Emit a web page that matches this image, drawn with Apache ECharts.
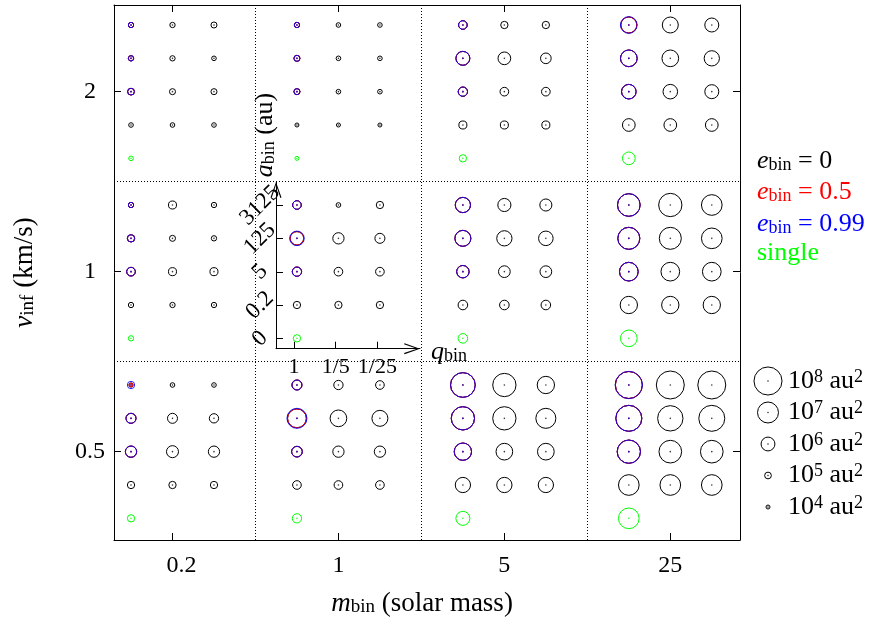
<!DOCTYPE html>
<html><head><meta charset="utf-8">
<script src="https://cdn.jsdelivr.net/npm/echarts@6/dist/echarts.min.js"></script>
<style>html,body{margin:0;padding:0;background:#fff}#c{width:879px;height:625px}</style>
</head><body><div id="c"></div>
<script>
// ---- categories / tick labels ----
const mBins = ['0.2', '1', '5', '25'];          // binary mass (solar mass)
const vInf = ['0.5', '1', '2'];                 // km/s, bottom to top
const qBins = ['1', '1/5', '1/25'];
const aBins = ['0', '0.2', '5', '125', '3125']; // '0' row = single star
const legendExp = [8, 7, 6, 5, 4];              // size legend, 10^n au^2

// ---- log10 cross-section (au^2), e_bin = 0 : [m][a = 0.2,5,125,3125][q = 1,1/5,1/25]
const sigE0_v2 = [
  [[4.7, 4.7, 4.7], [5.0, 4.9, 4.9], [4.8, 4.8, 4.7], [4.8, 4.8, 4.9]],
  [[4.6, 4.6, 4.6], [4.9, 4.7, 4.7], [4.9, 4.7, 4.7], [4.8, 4.7, 4.7]],
  [[5.18, 5.18, 5.18], [5.36, 5.27, 5.27], [6.0, 5.84, 5.55], [5.27, 5.08, 5.08]],
  [[5.84, 5.84, 5.84], [6.1, 6.1, 6.02], [6.4, 6.4, 6.2], [6.3, 6.3, 6.02]]
];
const sigE0_v1 = [
  [[4.8, 4.8, 4.8], [5.27, 5.18, 5.18], [5.08, 4.9, 4.8], [4.8, 5.18, 4.8]],
  [[5.08, 5.08, 5.08], [5.36, 5.27, 5.27], [5.95, 5.64, 5.46], [5.27, 4.71, 5.08]],
  [[5.4, 5.4, 5.4], [5.8, 5.7, 5.7], [6.3, 6.2, 6.1], [6.2, 5.9, 5.75]],
  [[6.49, 6.49, 6.49], [6.68, 6.68, 6.68], [7.15, 7.15, 6.96], [7.24, 7.33, 6.96]]
];
const sigE0_v05 = [
  [[5.08, 5.08, 5.08], [5.64, 5.74, 5.64], [5.46, 5.46, 5.36], [4.6, 4.7, 4.7]],
  [[5.27, 5.27, 5.27], [5.55, 5.64, 5.64], [6.7, 6.4, 6.3], [5.46, 5.36, 5.27]],
  [[6.2, 6.2, 6.2], [6.49, 6.4, 6.4], [7.33, 7.33, 6.87], [7.53, 7.33, 6.49]],
  [[6.96, 6.96, 6.96], [7.33, 7.24, 7.24], [7.71, 7.62, 7.71], [7.85, 7.99, 7.99]]
];
// e_bin = 0.5 and 0.99, q = 1 only : [m][a = 5,125,3125]
const sigE05_v2 = [[5.0, 4.8, 4.8], [4.9, 4.9, 4.8], [5.36, 6.0, 5.27], [6.1, 6.4, 6.3]];
const sigE05_v1 = [[5.27, 5.08, 4.8], [5.36, 5.95, 5.27], [5.8, 6.3, 6.2], [6.68, 7.15, 7.24]];
const sigE05_v05 = [[5.64, 5.46, 4.6], [5.55, 6.7, 5.46], [6.49, 7.33, 7.53], [7.33, 7.71, 7.85]];
const sigE099_v2 = [[5.0, 4.8, 4.8], [4.9, 4.9, 4.8], [5.36, 6.02, 5.27], [6.1, 6.4, 6.4]];
const sigE099_v1 = [[5.27, 5.08, 4.8], [5.36, 6.1, 5.27], [5.8, 6.3, 6.2], [6.68, 7.15, 7.24]];
const sigE099_v05 = [[5.64, 5.46, 5.08], [5.55, 6.87, 5.46], [6.49, 7.33, 7.53], [7.33, 7.71, 7.9]];
// single star : [v = 0.5,1,2][m]
const sigSingle = [[5.08, 5.36, 6.02, 6.96], [4.8, 5.08, 5.4, 6.4], [4.7, 4.6, 5.08, 5.84]];

// ---- layout helpers ----
const D = 5.4; // y spacing between velocity blocks (in a-row units)
const FONT = 'Liberation Serif';
const FS = 24;
function sz(L) { return Math.max(4, 7.1 * (L - 4.05)); }

const e0 = [sigE0_v05, sigE0_v1, sigE0_v2];
const e05 = [sigE05_v05, sigE05_v1, sigE05_v2];
const e099 = [sigE099_v05, sigE099_v1, sigE099_v2];
const blackPts = [], redPts = [], bluePts = [], greenPts = [];
for (let v = 0; v < vInf.length; v++) for (let m = 0; m < mBins.length; m++) {
  for (let ar = 0; ar < 4; ar++) for (let q = 0; q < qBins.length; q++)
    blackPts.push([4 * m + q - 1, v * D + ar - 1, e0[v][m][ar][q]]);
  for (let ar = 0; ar < 3; ar++) {
    redPts.push([4 * m - 1, v * D + ar, e05[v][m][ar]]);
    bluePts.push([4 * m - 1, v * D + ar, e099[v][m][ar]]);
  }
  greenPts.push([4 * m - 1, v * D - 2, sigSingle[v][m]]);
}

function ring(data, color, z, extra, op) {
  return Object.assign({
    type: 'scatter', data, xAxisIndex: 0, yAxisIndex: 0, symbol: 'circle',
    symbolSize: p => sz(p[2]), silent: true, z,
    itemStyle: { color: 'rgba(255,255,255,0)', borderColor: color, borderWidth: 1, opacity: op || 1 }
  }, extra || {});
}
function dots(data, color, z) {
  return { type: 'scatter', data, xAxisIndex: 0, yAxisIndex: 0, symbol: 'circle',
    symbolSize: 1.6, silent: true, z, itemStyle: { color, opacity: 0.8 } };
}

function richStyles(color, fs) {
  const sfs = Math.round(fs * 0.7);
  return {
    n: { fontFamily: FONT, fontSize: fs, lineHeight: fs, verticalAlign: 'top', fill: color, color },
    i: { fontFamily: FONT, fontSize: fs, lineHeight: fs, verticalAlign: 'top', fontStyle: 'italic', fill: color, color },
    sub: { fontFamily: FONT, fontSize: sfs, lineHeight: sfs, verticalAlign: 'bottom',
      padding: [Math.round(fs * 0.42), 0, 0, 0], fill: color, color }
  };
}
const chevron = 'path://M5,0 L10,14 L9,14.5 L5,2.8 L1,14.5 L0,14 Z';

const xMin = -1.41, xMax = 13.68, yMin = -2.65, yMax = 13.4;
const xTicks = [0, 4, 8, 12];
const yTicks = [0, D, 2 * D];
const NAME_FS = 27, LEG_FS = 26;

const option = {
  animation: false,
  backgroundColor: '#fff',
  grid: [
    { left: 110, top: 5, width: 630, height: 535 },
    { left: 276, top: 182, width: 144, height: 166.7 },
    { left: 768, top: 381, width: 50, height: 126 }
  ],
  xAxis: [
    { type: 'value', gridIndex: 0, min: xMin, max: xMax, position: 'bottom',
      axisLine: { show: true, onZero: false, lineStyle: { color: '#000', width: 1 } },
      axisTick: { show: true, inside: true, length: 7, customValues: xTicks, lineStyle: { color: '#000' } },
      axisLabel: { show: true, customValues: xTicks, margin: 14, color: '#000', fontFamily: FONT, fontSize: FS,
        formatter: v => { const k = Math.round(v / 4); return k === 0 ? '{p|' + mBins[k] + '}' : mBins[k]; },
        rich: { p: { fontFamily: FONT, fontSize: FS, color: '#000', padding: [0, 0, 0, 18] } } },
      splitLine: { show: false },
      name: '{i|m}{sub|bin}{n| (solar mass)}', nameLocation: 'middle', nameGap: 50,
      nameTextStyle: { color: '#000', rich: richStyles('#000', NAME_FS), padding: [0, 10, 0, 0] } },
    { type: 'value', gridIndex: 0, min: xMin, max: xMax, position: 'top',
      axisLine: { show: true, onZero: false, lineStyle: { color: '#000', width: 1 } },
      axisTick: { show: true, inside: true, length: 7, customValues: xTicks, lineStyle: { color: '#000' } },
      axisLabel: { show: false }, splitLine: { show: false } },
    { type: 'value', gridIndex: 1, min: -0.43, max: 3.02,
      axisLine: { show: true, onZero: false, symbol: ['none', chevron], symbolSize: [11, 16], symbolOffset: [0, -8],
        lineStyle: { color: '#000', width: 1 } },
      axisTick: { show: true, inside: true, length: 7, customValues: [0, 1, 2], lineStyle: { color: '#000' } },
      axisLabel: { show: true, customValues: [0, 1, 2], margin: 8, color: '#000', fontFamily: FONT, fontSize: 22,
        formatter: v => qBins[Math.round(v)] },
      splitLine: { show: false } },
    { type: 'value', gridIndex: 2, min: 0, max: 1, show: false }
  ],
  yAxis: [
    { type: 'value', gridIndex: 0, min: yMin, max: yMax, position: 'left',
      axisLine: { show: true, onZero: false, lineStyle: { color: '#000', width: 1 } },
      axisTick: { show: true, inside: true, length: 7, customValues: yTicks, lineStyle: { color: '#000' } },
      axisLabel: { show: true, customValues: yTicks, margin: 24, align: 'center', color: '#000', fontFamily: FONT, fontSize: FS,
        formatter: v => vInf[Math.round(v / D)] },
      splitLine: { show: false },
      name: '{i|v}{sub|inf}{n| (km/s)}', nameLocation: 'middle', nameGap: 76, nameRotate: 90,
      nameTextStyle: { color: '#000', rich: richStyles('#000', NAME_FS) } },
    { type: 'value', gridIndex: 0, min: yMin, max: yMax, position: 'right',
      axisLine: { show: true, onZero: false, lineStyle: { color: '#000', width: 1 } },
      axisTick: { show: true, inside: true, length: 7, customValues: yTicks, lineStyle: { color: '#000' } },
      axisLabel: { show: false }, splitLine: { show: false } },
    { type: 'value', gridIndex: 1, min: -0.3, max: 4.7,
      axisLine: { show: true, onZero: false, symbol: ['none', chevron], symbolSize: [11, 16], symbolOffset: [0, -8],
        lineStyle: { color: '#000', width: 1 } },
      axisTick: { show: true, inside: true, length: 7, customValues: [0, 1, 2, 3, 4], lineStyle: { color: '#000' } },
      axisLabel: { show: true, customValues: [0, 1, 2, 3, 4], margin: 16, rotate: 45, align: 'center',
        color: '#000', fontFamily: FONT, fontSize: 23, formatter: v => aBins[Math.round(v)] },
      splitLine: { show: false } },
    { type: 'value', gridIndex: 2, min: 4, max: 8, show: false }
  ],
  series: [
    ring(blackPts, '#000', 2, {
      markLine: { silent: true, symbol: ['none', 'none'], label: { show: false },
        lineStyle: { type: [1, 2], color: '#000', width: 1 },
        data: [{ xAxis: 2 }, { xAxis: 6 }, { xAxis: 10 }, { yAxis: D / 2 }, { yAxis: 1.5 * D }] }
    }),
    dots(blackPts, '#000', 3),
    ring(redPts, '#ff0000', 4),
    dots(redPts, '#ff0000', 5),
    ring(bluePts, '#0000ff', 6, null, 0.85),
    dots(bluePts, '#0000ff', 7),
    ring(greenPts, '#00ff00', 8),
    dots(greenPts, '#00ff00', 9),
    { type: 'scatter', xAxisIndex: 2, yAxisIndex: 1, data: [] },
    { type: 'scatter', xAxisIndex: 3, yAxisIndex: 3, clip: false, silent: true,
      data: legendExp.map(e => [0, e, e]), symbol: 'circle', symbolSize: p => sz(p[2]),
      itemStyle: { color: 'rgba(255,255,255,0)', borderColor: '#000', borderWidth: 1, opacity: 1 },
      label: { show: true, position: 'inside', align: 'left', verticalAlign: 'middle', offset: [20, 0],
        color: '#000', formatter: p => '{n|10}{sup|' + p.value[1] + '}{n| au}{sup|2}',
        rich: {
          n: { fontFamily: FONT, fontSize: LEG_FS, lineHeight: LEG_FS, verticalAlign: 'bottom', color: '#000' },
          sup: { fontFamily: FONT, fontSize: 18, lineHeight: 18, verticalAlign: 'top', padding: [0, 0, 11, 0], color: '#000' }
        } } },
    { type: 'scatter', xAxisIndex: 3, yAxisIndex: 3, clip: false, silent: true,
      data: legendExp.map(e => [0, e]), symbol: 'circle', symbolSize: 1.6, itemStyle: { color: '#000', opacity: 0.8 } }
  ],
  graphic: [
    { type: 'text', x: 265, y: 135, rotation: Math.PI / 2, silent: true,
      style: { text: '{i|a}{sub|bin}{n| (au)}', align: 'center', verticalAlign: 'middle', fill: '#000', rich: richStyles('#000', LEG_FS) } },
    { type: 'text', x: 431, y: 352, silent: true,
      style: { text: '{i|q}{sub|bin}', align: 'left', verticalAlign: 'middle', fill: '#000', rich: richStyles('#000', LEG_FS) } },
    { type: 'text', x: 757, y: 161, silent: true,
      style: { text: '{i|e}{sub|bin}{n| = 0}', align: 'left', verticalAlign: 'middle', fill: '#000', rich: richStyles('#000', LEG_FS) } },
    { type: 'text', x: 757, y: 192, silent: true,
      style: { text: '{i|e}{sub|bin}{n| = 0.5}', align: 'left', verticalAlign: 'middle', fill: '#ff0000', rich: richStyles('#ff0000', LEG_FS) } },
    { type: 'text', x: 757, y: 224, silent: true,
      style: { text: '{i|e}{sub|bin}{n| = 0.99}', align: 'left', verticalAlign: 'middle', fill: '#0000ff', rich: richStyles('#0000ff', LEG_FS) } },
    { type: 'text', x: 757, y: 253, silent: true,
      style: { text: '{n|single}', align: 'left', verticalAlign: 'middle', fill: '#00ff00', rich: richStyles('#00ff00', LEG_FS) } }
  ]
};
const chart = echarts.init(document.getElementById('c'), null, { renderer: 'canvas' });
chart.setOption(option);
</script>
</body></html>
